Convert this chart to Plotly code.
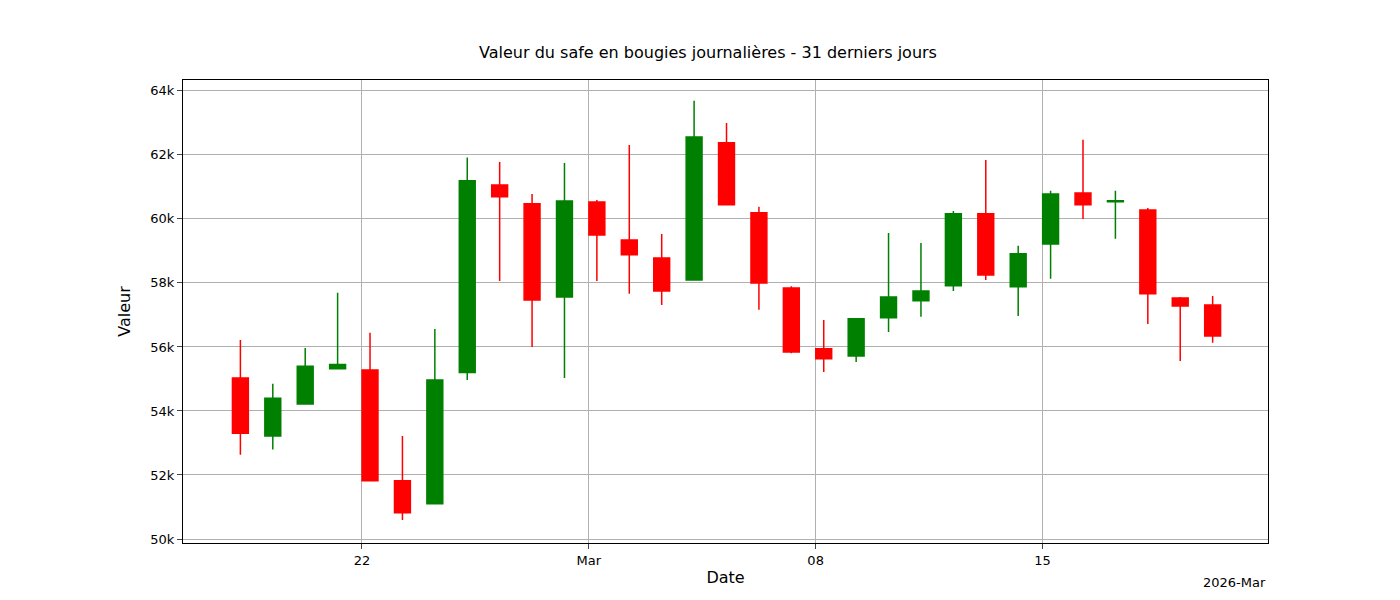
import plotly.graph_objects as go
import pandas as pd

dates = pd.date_range("2026-02-18 06:00", periods=31, freq="D")
opens = [55030, 53220, 54220, 55320, 55280, 51820, 51100, 55200, 61060, 60470, 57560,
         60530, 59340, 58780, 58090, 62380, 60190, 57840, 55940, 55720, 56910, 57440,
         57910, 60160, 57880, 59220, 60810, 60540, 60280, 57530, 57310]
highs = [56220, 54850, 55970, 57690, 56440, 53220, 56560, 61920, 61780, 60780, 61750,
         60590, 62310, 59530, 63690, 63000, 60380, 57900, 56840, 56900, 59560, 59250,
         60250, 61840, 59160, 60880, 62470, 60880, 60340, 57560, 57590]
lows = [52630, 52800, 54220, 55300, 51800, 50590, 51080, 54970, 58060, 56000, 55030,
        58060, 57660, 57310, 58090, 60440, 57160, 55800, 55220, 55530, 56470, 56940,
        57750, 58090, 56970, 58130, 60000, 59380, 56720, 55560, 56130]
closes = [53300, 54400, 55400, 55450, 51820, 50820, 54970, 61190, 60690, 57470, 60560,
          59500, 58880, 57750, 62560, 60440, 58000, 55840, 55630, 56880, 57560, 57750,
          60160, 58250, 58910, 60780, 60440, 60570, 57660, 57280, 56340]

tick_dates = ["2026-02-22", "2026-03-01", "2026-03-08", "2026-03-15"]
tick_labels = ["22", "Mar", "08", "15"]

fig = go.Figure(go.Candlestick(
    x=dates, open=opens, high=highs, low=lows, close=closes,
    increasing=dict(line=dict(color="green", width=1.5), fillcolor="green"),
    decreasing=dict(line=dict(color="red", width=1.5), fillcolor="red"),
    whiskerwidth=0, showlegend=False,
))

fig.update_layout(
    width=1400, height=600,
    font=dict(family="DejaVu Sans", size=13, color="black"),
    title=dict(text="Valeur du safe en bougies journalières - 31 derniers jours",
               x=0.5, xanchor="center", y=0.935, font=dict(size=16)),
    plot_bgcolor="white", paper_bgcolor="white",
    margin=dict(l=175, r=140, t=72, b=65),
    xaxis_rangeslider_visible=False,
)
fig.update_xaxes(
    range=["2026-02-16 11:30", "2026-03-21 23:00"],
    tickmode="array", tickvals=tick_dates, ticktext=tick_labels,
    showgrid=True, gridcolor="#b0b0b0", showline=True, linecolor="black", mirror=True,
    ticks="outside", title=dict(text="Date", standoff=5),
)
fig.update_yaxes(
    range=[49875, 64340], tickvals=list(range(50000, 64001, 2000)),
    showgrid=True, gridcolor="#b0b0b0", showline=True, linecolor="black", mirror=True,
    ticks="outside", title=dict(text="Valeur"), zeroline=False,
)
fig.add_annotation(text="2026-Mar", xref="paper", yref="paper", x=1, y=-0.065,
                   xanchor="right", yanchor="top", showarrow=False)

fig.write_html("out.html")
